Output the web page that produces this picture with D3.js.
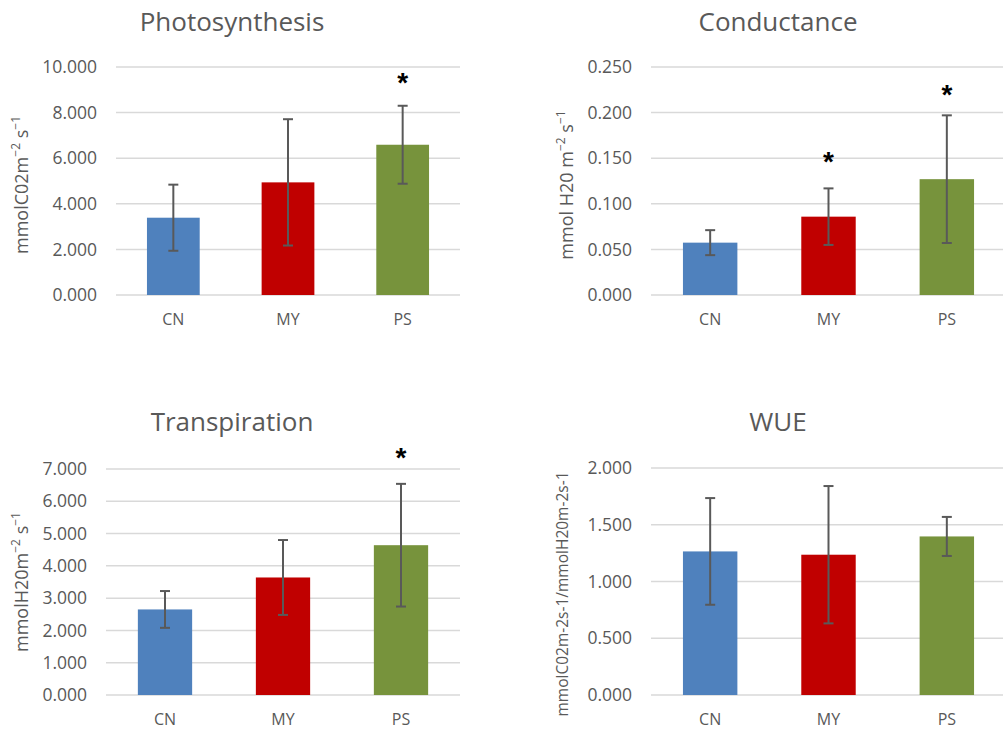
<!DOCTYPE html>
<html>
<head>
<meta charset="utf-8">
<script src="https://cdn.jsdelivr.net/npm/d3@7"></script>
<style>
  body { margin: 0; background: #fff; }
  svg { display: block; font-family: "Open Sans", "Noto Sans", sans-serif; }
</style>
</head>
<body>
<svg id="chart" width="1003" height="731"></svg>
<script>
const categories = [`CN`, `MY`, `PS`];
const barColors = [`#4f81bd`, `#c00000`, `#77933c`];

// Photosynthesis
const photoMeans = [3.39, 4.94, 6.59];
const photoErr = [1.45, 2.77, 1.71];
const photoStars = [null, null, 9.5];
const photoTicks = [0, 2, 4, 6, 8, 10];

// Conductance
const condMeans = [0.0574, 0.0859, 0.127];
const condErr = [0.0137, 0.031, 0.070];
const condStars = [null, 0.151, 0.225];
const condTicks = [0, 0.05, 0.1, 0.15, 0.2, 0.25];

// Transpiration
const transMeans = [2.65, 3.64, 4.64];
const transErr = [0.57, 1.16, 1.9];
const transStars = [null, null, 7.5];
const transTicks = [0, 1, 2, 3, 4, 5, 6, 7];

// WUE
const wueMeans = [1.265, 1.236, 1.397];
const wueErr = [0.47, 0.605, 0.172];
const wueStars = [null, null, null];
const wueTicks = [0, 0.5, 1, 1.5, 2];

const panels = [
  {title: `Photosynthesis`, means: photoMeans, err: photoErr, stars: photoStars, ticks: photoTicks,
    left: 116, right: 460, top: 67, bottom: 295, titleX: 232, titleY: 31, labelX: 28, labelY: 185,
    ylabel: [[`mmolC02m`], [`−2`, true], [` s`], [`−1`, true]], labelSize: 18},
  {title: `Conductance`, means: condMeans, err: condErr, stars: condStars, ticks: condTicks,
    left: 651, right: 1006, top: 67, bottom: 295, titleX: 778, titleY: 31, labelX: 573, labelY: 185,
    ylabel: [[`mmol H20 m`], [`−2`, true], [` s`], [`−1`, true]], labelSize: 18},
  {title: `Transpiration`, means: transMeans, err: transErr, stars: transStars, ticks: transTicks,
    left: 106, right: 460, top: 469, bottom: 695, titleX: 232, titleY: 431, labelX: 28, labelY: 582,
    ylabel: [[`mmolH20m`], [`−2`, true], [` s`], [`−1`, true]], labelSize: 18},
  {title: `WUE`, means: wueMeans, err: wueErr, stars: wueStars, ticks: wueTicks,
    left: 651, right: 1006, top: 468, bottom: 695, titleX: 778, titleY: 431, labelX: 568, labelY: 594,
    ylabel: [[`mmolC02m-2s-1/mmolH20m-2s-1`]], labelSize: 15.5}
];

const svg = d3.select(`#chart`);
const fmt = d3.format(`.3f`);

const drawPanel = p => {
  const x = d3.scaleBand()
    .domain(categories)
    .range([p.left, p.right])
    .paddingInner(0.54)
    .paddingOuter(0.27);

  const y = d3.scaleLinear()
    .domain([0, d3.max(p.ticks)])
    .range([p.bottom, p.top]);

  const g = svg.append(`g`);

  // gridlines
  g.selectAll(`line.grid`)
    .data(p.ticks)
    .enter().append(`line`)
    .attr(`class`, `grid`)
    .attr(`x1`, p.left)
    .attr(`x2`, p.right)
    .attr(`y1`, d => y(d))
    .attr(`y2`, d => y(d))
    .attr(`stroke`, `#d9d9d9`)
    .attr(`stroke-width`, 1.5);

  // y axis labels
  const yAxis = d3.axisLeft(y)
    .tickValues(p.ticks)
    .tickFormat(fmt)
    .tickSize(0)
    .tickPadding(19);

  g.append(`g`)
    .attr(`transform`, `translate(${p.left},0)`)
    .call(yAxis)
    .call(a => a.select(`.domain`).remove())
    .call(a => a.selectAll(`text`)
      .attr(`fill`, `#595959`)
      .attr(`font-size`, `17.5px`)
      .attr(`font-family`, `"Open Sans", sans-serif`));

  // x axis labels
  const xAxis = d3.axisBottom(x)
    .tickSize(0)
    .tickPadding(19);

  g.append(`g`)
    .attr(`transform`, `translate(0,${p.bottom})`)
    .call(xAxis)
    .call(a => a.select(`.domain`).remove())
    .call(a => a.selectAll(`text`)
      .attr(`fill`, `#595959`)
      .attr(`font-size`, `16px`)
      .attr(`font-family`, `"Open Sans", sans-serif`));

  // bars
  g.selectAll(`rect.bar`)
    .data(categories)
    .enter().append(`rect`)
    .attr(`class`, `bar`)
    .attr(`x`, d => x(d))
    .attr(`width`, x.bandwidth())
    .attr(`y`, (d, i) => y(p.means[i]))
    .attr(`height`, (d, i) => p.bottom - y(p.means[i]))
    .attr(`fill`, (d, i) => barColors[i]);

  // error bars
  const eb = g.selectAll(`g.err`)
    .data(categories)
    .enter().append(`g`)
    .attr(`class`, `err`)
    .attr(`stroke`, `#595959`)
    .attr(`stroke-width`, 2);

  const cx = d => x(d) + x.bandwidth() / 2;

  eb.append(`line`)
    .attr(`x1`, cx).attr(`x2`, cx)
    .attr(`y1`, (d, i) => y(p.means[i] + p.err[i]))
    .attr(`y2`, (d, i) => y(p.means[i] - p.err[i]));

  eb.append(`line`)
    .attr(`x1`, d => cx(d) - 5).attr(`x2`, d => cx(d) + 5)
    .attr(`y1`, (d, i) => y(p.means[i] + p.err[i]))
    .attr(`y2`, (d, i) => y(p.means[i] + p.err[i]));

  eb.append(`line`)
    .attr(`x1`, d => cx(d) - 5).attr(`x2`, d => cx(d) + 5)
    .attr(`y1`, (d, i) => y(p.means[i] - p.err[i]))
    .attr(`y2`, (d, i) => y(p.means[i] - p.err[i]));

  // significance stars
  g.selectAll(`text.star`)
    .data(categories.filter((d, i) => p.stars[i] !== null))
    .enter().append(`text`)
    .attr(`class`, `star`)
    .attr(`x`, cx)
    .attr(`y`, d => y(p.stars[categories.indexOf(d)]) + 14)
    .attr(`text-anchor`, `middle`)
    .attr(`font-size`, `28px`)
    .attr(`font-weight`, `bold`)
    .attr(`fill`, `#000`)
    .attr(`font-family`, `"Liberation Sans", sans-serif`)
    .text(`*`);

  // title
  g.append(`text`)
    .attr(`x`, p.titleX)
    .attr(`y`, p.titleY)
    .attr(`text-anchor`, `middle`)
    .attr(`font-size`, `26px`)
    .attr(`fill`, `#595959`)
    .text(p.title);

  // y label
  const lab = g.append(`text`)
    .attr(`transform`, `translate(${p.labelX},${p.labelY}) rotate(-90)`)
    .attr(`text-anchor`, `middle`)
    .attr(`font-size`, `${p.labelSize}px`)
    .attr(`fill`, `#595959`);

  p.ylabel.forEach(([t, sup]) => {
    lab.append(`tspan`)
      .attr(`baseline-shift`, sup ? `super` : null)
      .attr(`font-size`, sup ? `12px` : null)
      .text(t);
  });
};

panels.forEach(drawPanel);
</script>
</body>
</html>
